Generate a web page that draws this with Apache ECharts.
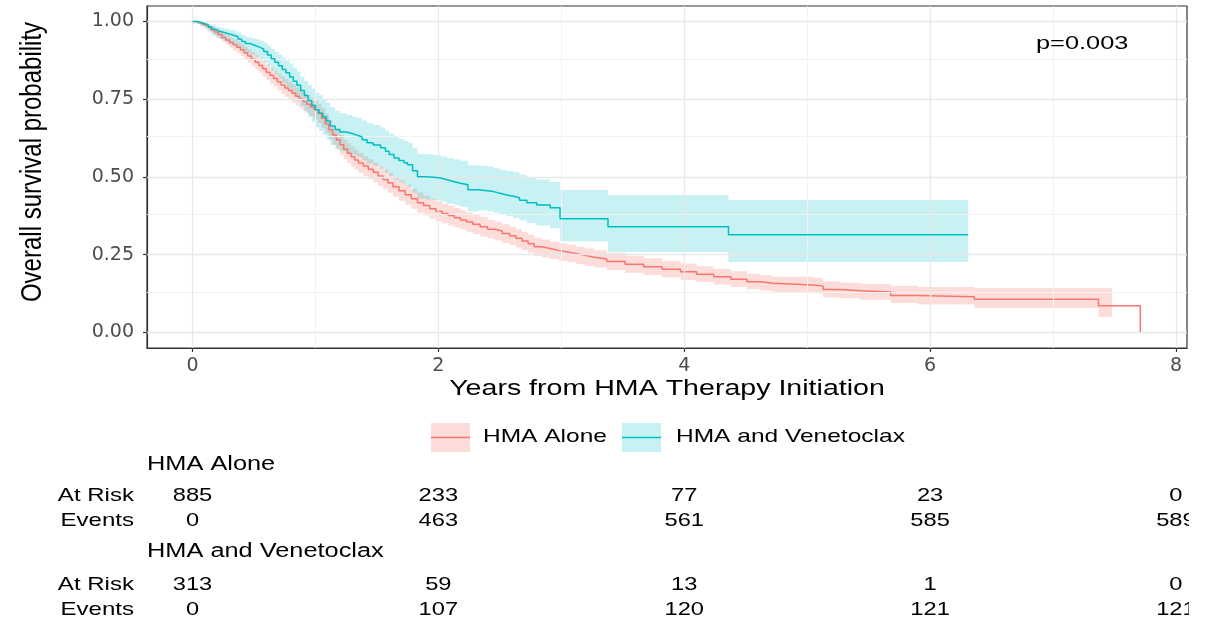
<!DOCTYPE html>
<html><head><meta charset="utf-8">
<script src="https://cdn.jsdelivr.net/npm/echarts@6/dist/echarts.min.js"></script>
<style>html,body{margin:0;padding:0;background:#fff}#c{width:1210px;height:620px}</style>
</head><body><div id="c"></div>
<script>
// ---------- data ----------
const groupNames = ['HMA Alone', 'HMA and Venetoclax'];
const xTicks = [0, 2, 4, 6, 8];
const xMinor = [1, 3, 5, 7];
const yTicks = [0, 0.25, 0.5, 0.75, 1];
const yMinor = [0.125, 0.375, 0.625, 0.875];

const timeAlone = [
  0.00,0.03,0.06,0.09,0.12,0.15,0.18,0.21,0.24,0.27,
  0.30,0.33,0.36,0.39,0.42,0.45,0.48,0.51,0.54,0.57,
  0.60,0.63,0.66,0.69,0.72,0.75,0.78,0.81,0.84,0.87,
  0.90,0.93,0.96,0.99,1.02,1.05,1.08,1.11,1.14,1.17,
  1.20,1.23,1.26,1.29,1.32,1.35,1.39,1.43,1.47,1.51,
  1.55,1.59,1.63,1.68,1.73,1.78,1.83,1.88,1.93,1.98,
  2.03,2.08,2.13,2.18,2.23,2.28,2.34,2.40,2.46,2.52,
  2.58,2.63,2.68,2.73,2.78,2.84,2.91,2.98,3.05,3.12,
  3.19,3.27,3.37,3.52,3.67,3.82,3.97,4.10,4.24,4.38,
  4.51,4.62,4.72,5.05,5.13,5.27,5.43,5.68,5.90,6.36,
  7.37,7.48,7.71];
const survAlone = [
  1.000,0.996,0.991,0.987,0.981,0.974,0.966,0.958,0.949,0.941,
  0.933,0.925,0.917,0.909,0.899,0.889,0.879,0.869,0.859,0.848,
  0.837,0.827,0.817,0.806,0.796,0.786,0.778,0.769,0.760,0.751,
  0.743,0.734,0.725,0.716,0.705,0.689,0.671,0.652,0.635,0.620,
  0.604,0.589,0.576,0.565,0.555,0.545,0.535,0.525,0.515,0.503,
  0.492,0.481,0.469,0.456,0.443,0.430,0.417,0.408,0.398,0.390,
  0.383,0.376,0.369,0.362,0.355,0.348,0.340,0.332,0.326,0.318,
  0.311,0.303,0.294,0.285,0.276,0.270,0.264,0.259,0.254,0.248,
  0.242,0.236,0.228,0.219,0.211,0.203,0.195,0.187,0.179,0.171,
  0.163,0.158,0.153,0.149,0.138,0.134,0.130,0.119,0.115,0.107,
  0.086,0.086,0.000];
const lowerAlone = [
  1.000,0.992,0.985,0.979,0.971,0.962,0.953,0.944,0.934,0.925,
  0.916,0.907,0.898,0.889,0.878,0.867,0.856,0.846,0.835,0.823,
  0.812,0.801,0.790,0.779,0.768,0.758,0.749,0.740,0.731,0.721,
  0.713,0.704,0.695,0.685,0.674,0.658,0.640,0.621,0.604,0.588,
  0.572,0.557,0.544,0.533,0.523,0.513,0.503,0.493,0.483,0.471,
  0.460,0.449,0.437,0.424,0.411,0.398,0.385,0.376,0.366,0.358,
  0.351,0.344,0.338,0.331,0.324,0.317,0.309,0.302,0.296,0.288,
  0.281,0.273,0.265,0.256,0.247,0.241,0.236,0.231,0.226,0.220,
  0.214,0.209,0.201,0.192,0.185,0.177,0.169,0.162,0.154,0.146,
  0.139,0.134,0.129,0.125,0.113,0.110,0.105,0.095,0.090,0.079,
  0.050,null,null];
const upperAlone = [
  1.000,0.999,0.996,0.993,0.989,0.984,0.977,0.970,0.963,0.956,
  0.949,0.942,0.935,0.928,0.919,0.910,0.901,0.892,0.882,0.872,
  0.862,0.852,0.843,0.833,0.824,0.814,0.806,0.798,0.789,0.780,
  0.772,0.764,0.755,0.746,0.736,0.720,0.702,0.683,0.666,0.651,
  0.636,0.621,0.608,0.597,0.587,0.577,0.567,0.557,0.547,0.535,
  0.524,0.513,0.501,0.488,0.475,0.462,0.449,0.440,0.430,0.422,
  0.415,0.408,0.400,0.393,0.386,0.379,0.371,0.362,0.356,0.348,
  0.341,0.333,0.323,0.314,0.305,0.299,0.292,0.287,0.282,0.276,
  0.270,0.264,0.256,0.247,0.239,0.230,0.222,0.213,0.205,0.197,
  0.189,0.184,0.179,0.175,0.164,0.160,0.156,0.150,0.146,0.143,
  0.143,null,null];

const timeVen = [
  0.00,0.04,0.07,0.10,0.13,0.16,0.19,0.22,0.26,0.30,
  0.34,0.37,0.40,0.43,0.47,0.51,0.55,0.58,0.61,0.64,
  0.67,0.70,0.73,0.76,0.79,0.82,0.85,0.88,0.91,0.94,
  0.97,1.00,1.03,1.06,1.09,1.12,1.16,1.20,1.25,1.30,
  1.34,1.38,1.42,1.47,1.53,1.57,1.60,1.64,1.68,1.72,
  1.75,1.79,1.83,1.90,1.96,2.02,2.07,2.13,2.18,2.24,
  2.32,2.40,2.45,2.50,2.55,2.61,2.66,2.72,2.80,2.91,
  2.99,3.38,4.36,6.31];
const survVen = [
  1.000,0.997,0.993,0.989,0.982,0.975,0.969,0.965,0.960,0.955,
  0.951,0.944,0.936,0.929,0.923,0.917,0.911,0.904,0.892,0.880,
  0.869,0.858,0.846,0.835,0.822,0.808,0.795,0.778,0.762,0.746,
  0.731,0.716,0.705,0.694,0.680,0.664,0.653,0.645,0.640,0.634,
  0.629,0.620,0.610,0.603,0.594,0.583,0.572,0.561,0.553,0.546,
  0.539,0.520,0.501,0.499,0.497,0.491,0.485,0.480,0.475,0.459,
  0.456,0.453,0.448,0.443,0.438,0.433,0.425,0.417,0.410,0.401,
  0.366,0.340,0.314,0.314];
const lowerVen = [
  1.000,0.992,0.985,0.977,0.967,0.957,0.949,0.943,0.936,0.929,
  0.924,0.916,0.907,0.899,0.892,0.885,0.878,0.870,0.856,0.842,
  0.829,0.816,0.802,0.789,0.775,0.760,0.746,0.728,0.711,0.694,
  0.677,0.660,0.648,0.636,0.621,0.604,0.592,0.583,0.577,0.570,
  0.564,0.554,0.543,0.535,0.526,0.514,0.503,0.491,0.483,0.476,
  0.469,0.449,0.430,0.428,0.426,0.420,0.414,0.409,0.404,0.389,
  0.392,0.390,0.385,0.380,0.374,0.368,0.360,0.352,0.344,0.335,
  0.293,0.259,0.227,null];
const upperVen = [
  1.000,1.000,0.998,0.997,0.992,0.987,0.983,0.980,0.977,0.973,
  0.970,0.964,0.957,0.951,0.947,0.943,0.938,0.932,0.922,0.912,
  0.903,0.894,0.884,0.875,0.864,0.851,0.839,0.823,0.809,0.796,
  0.784,0.772,0.763,0.752,0.739,0.724,0.713,0.705,0.700,0.694,
  0.690,0.682,0.673,0.667,0.659,0.649,0.639,0.629,0.622,0.616,
  0.610,0.593,0.575,0.573,0.571,0.566,0.560,0.556,0.552,0.538,
  0.536,0.534,0.528,0.523,0.519,0.515,0.507,0.499,0.492,0.484,
  0.458,0.442,0.426,null];

const tableTimes = [0, 2, 4, 6, 8];
const atRiskAlone = [885, 233, 77, 23, 0];
const eventsAlone = [0, 463, 561, 585, 589];
const atRiskVen = [313, 59, 13, 1, 0];
const eventsVen = [0, 107, 120, 121, 121];
const pValueText = 'p=0.003';

// ---------- styles ----------
const RED = '#F8766D', TEAL = '#00BFC4';
const RED_FILL = 'rgba(248,118,109,0.25)', TEAL_FILL = 'rgba(0,191,196,0.22)';
const FONT = 'Liberation Sans, Arial, sans-serif';
const SX = 1.3;

const zip = (a, b) => a.map((v, i) => [v, b[i]]);

function bandSeries(name, t, lo, hi, fill, z) {
  return {
    type: 'custom', name, z, silent: true, animation: false,
    data: [[t[0], hi[0]]],
    renderItem: (params, api) => {
      const up = [], dn = [];
      for (let i = 0; i < t.length - 1; i++) {
        if (lo[i] == null || hi[i] == null) break;
        up.push(api.coord([t[i], hi[i]]), api.coord([t[i + 1], hi[i]]));
        dn.push(api.coord([t[i], lo[i]]), api.coord([t[i + 1], lo[i]]));
      }
      return { type: 'polygon', shape: { points: up.concat(dn.reverse()) }, style: { fill } };
    }
  };
}

const minorStyle = { color: '#F2F2F2', width: 1, type: 'solid' };
const majorStyle = { color: '#E8E8E8', width: 1.3, type: 'solid' };
const gridLines = []
  .concat(xMinor.map(v => ({ xAxis: v, lineStyle: minorStyle })))
  .concat(yMinor.map(v => ({ yAxis: v, lineStyle: minorStyle })))
  .concat(xTicks.map(v => ({ xAxis: v, lineStyle: majorStyle })))
  .concat(yTicks.map(v => ({ yAxis: v, lineStyle: majorStyle })));

const chart = echarts.init(document.getElementById('c'), null, { renderer: 'canvas' });

chart.setOption({
  animation: false,
  backgroundColor: '#fff',
  grid: { left: 147, right: 23, top: 6, height: 342, show: true, borderColor: '#333', borderWidth: 1.2, backgroundColor: '#fff' },
  xAxis: {
    type: 'value', min: -0.37, max: 8.09,
    axisLine: { show: true, onZero: false, lineStyle: { color: '#333', width: 1.2 } },
    axisTick: { show: true, customValues: xTicks, length: 4, lineStyle: { color: '#333', width: 1.2 } },
    axisLabel: { customValues: xTicks, color: '#4D4D4D', fontFamily: 'DejaVu Sans', fontSize: 19, margin: 9 },
    splitLine: { show: false }
  },
  yAxis: {
    type: 'value', min: -0.05, max: 1.05,
    axisLine: { show: true, onZero: false, lineStyle: { color: '#333', width: 1.2 } },
    axisTick: { show: true, customValues: yTicks, length: 4, lineStyle: { color: '#333', width: 1.2 } },
    axisLabel: { customValues: yTicks, color: '#4D4D4D', fontFamily: 'DejaVu Sans', fontSize: 19, margin: 13,
      formatter: v => v.toFixed(2) },
    splitLine: { show: false }
  },
  series: [
    { type: 'line', name: 'grid', z: 0, silent: true, data: [[0, 0]], showSymbol: false, lineStyle: { opacity: 0 },
      markLine: { silent: true, symbol: ['none', 'none'], animation: false, label: { show: false }, data: gridLines } },
    bandSeries(groupNames[0] + ' CI', timeAlone, lowerAlone, upperAlone, RED_FILL, 2),
    bandSeries(groupNames[1] + ' CI', timeVen, lowerVen, upperVen, TEAL_FILL, 3),
    { type: 'line', name: groupNames[0], z: 4, step: 'end', showSymbol: false, silent: true,
      data: zip(timeAlone, survAlone), lineStyle: { color: RED, width: 1.5 }, itemStyle: { color: RED } },
    { type: 'line', name: groupNames[1], z: 5, step: 'end', showSymbol: false, silent: true,
      data: zip(timeVen, survVen), lineStyle: { color: TEAL, width: 1.5 }, itemStyle: { color: TEAL } }
  ]
});

function txt(text, x, y, o) {
  return {
    type: 'text', x, y, z: 20, silent: true,
    scaleX: o.sx == null ? SX : o.sx, scaleY: o.sy || 1, rotation: o.rot || 0,
    style: { text, fontFamily: FONT, fontSize: o.size, fill: o.color || '#000',
      align: o.align || 'left', verticalAlign: 'middle' }
  };
}

const gfx = [];
// axis titles and p-value
gfx.push(txt('Years from HMA Therapy Initiation', 667, 389, { size: 22.5, sx: 1.27, align: 'center' }));
gfx.push(txt('Overall survival probability', 33, 162, { size: 24, align: 'center', rot: Math.PI / 2, sx: 1, sy: 1.2 }));
gfx.push(txt(pValueText, 1036, 44, { size: 18.5, sx: 1.37 }));

// legend
const legendItems = [
  { x: 431, name: groupNames[0], line: RED, fill: RED_FILL, tx: 483 },
  { x: 622, name: groupNames[1], line: TEAL, fill: TEAL_FILL, tx: 676 }
];
legendItems.forEach(l => {
  gfx.push({ type: 'rect', z: 20, silent: true, shape: { x: l.x, y: 423, width: 39, height: 29 }, style: { fill: l.fill } });
  gfx.push({ type: 'line', z: 21, silent: true, shape: { x1: l.x, y1: 437.5, x2: l.x + 39, y2: 437.5 }, style: { stroke: l.line, lineWidth: 1.6 } });
  gfx.push(txt(l.name, l.tx, 437, { size: 19, sx: 1.29 }));
});

// risk table
const tables = [
  { title: groupNames[0], ty: 465, rows: [['At Risk', atRiskAlone, 496], ['Events', eventsAlone, 521]] },
  { title: groupNames[1], ty: 552, rows: [['At Risk', atRiskVen, 585], ['Events', eventsVen, 610]] }
];
tables.forEach(tb => {
  gfx.push(txt(tb.title, 147, tb.ty, { size: 19.5, sx: 1.3 }));
  tb.rows.forEach(([label, vals, y]) => {
    gfx.push(txt(label, 134, y, { size: 18.5, sx: 1.3, align: 'right' }));
    vals.forEach((v, i) => {
      const px = chart.convertToPixel({ xAxisIndex: 0 }, tableTimes[i]);
      gfx.push(txt(String(v), px, y, { size: 18.5, sx: 1.28, align: 'center' }));
    });
  });
});
// table panel is clipped at the plot's right edge
gfx.push({ type: 'rect', z: 30, silent: true, shape: { x: 1189, y: 480, width: 30, height: 140 }, style: { fill: '#fff' } });

chart.setOption({ graphic: gfx });
</script>
</body></html>
